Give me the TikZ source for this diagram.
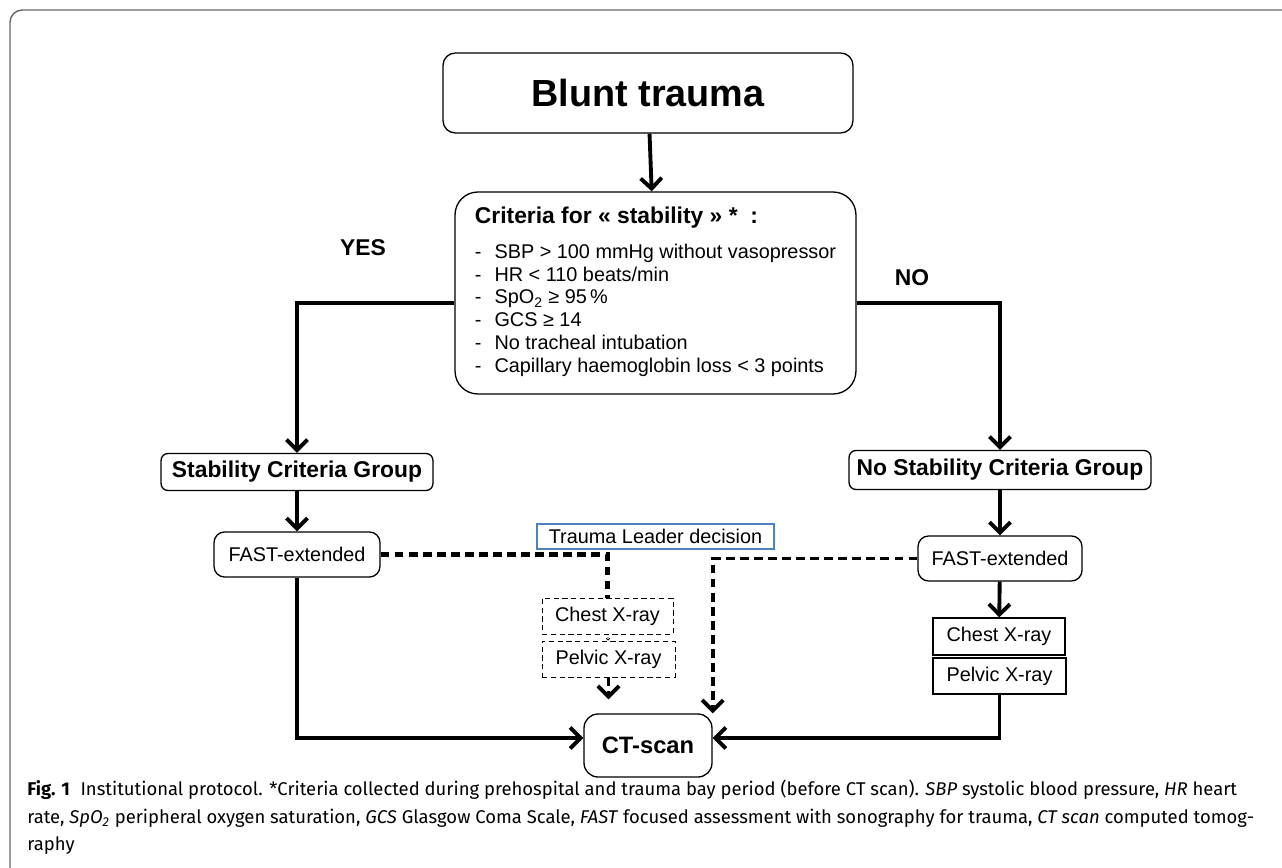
\documentclass[tikz,border=0pt]{standalone}
\usepackage{fontspec}
\setmainfont{Liberation Sans}
\newfontfamily\capfont{Fira Sans}
\usepackage{tikz}
\usetikzlibrary{arrows.meta}
\definecolor{tlblue}{RGB}{79,129,189}

\begin{document}
\begin{tikzpicture}[x=0.02cm, y=-0.02cm,
  box/.style={draw, rounded corners=4pt, line width=0.75pt, inner sep=0pt, font=\fontsize{11.3}{13}\selectfont},
  sqbox/.style={box, rounded corners=0pt},
  dbox/.style={sqbox, densely dashed, line width=0.5pt},
  bld/.style={font=\fontsize{13}{15}\selectfont\bfseries},
  arr/.style={-{Straight Barb[length=6pt,width=12pt]}, line width=2.2pt},
  dsh/.style={line width=2.4pt, dash pattern=on 5pt off 3pt}]
\useasboundingbox (0,0) rectangle (1282,868);
% frame
\draw[gray!80!black, line width=0.8pt, rounded corners=7pt] (10,868) -- (10,10) -- (1282,10);

\node[box, rounded corners=7pt, minimum width=8.2cm, minimum height=1.6cm, font=\fontsize{21.5}{25}\selectfont\bfseries] (bt) at (648,93) {Blunt trauma};
\node[box, rounded corners=13pt, minimum width=8.02cm, minimum height=4.04cm] (crit) at (655.5,293) {%
\begin{tabular}{@{}l@{\hspace{7.4pt}}l@{}}
\multicolumn{2}{@{}l}{\fontsize{13}{15}\selectfont\bfseries Criteria for « stability » *\ \ :}\\[7pt]
- & SBP > 100 mmHg without vasopressor\\
- & HR < 110 beats/min\\
- & SpO\textsubscript{2} ≥ 95\,\%\\
- & GCS ≥ 14\\
- & No tracheal intubation\\
- & Capillary haemoglobin loss < 3 points
\end{tabular}};
\node[bld] (yes) at (363,248) {YES};
\node[bld] (no) at (912,278) {NO};

\node[box, bld, minimum width=5.44cm, minimum height=0.74cm] (sg) at (297,472) {Stability Criteria Group};
\node[box, bld, minimum width=6.04cm, minimum height=0.78cm] (nsg) at (1000,470) {No Stability Criteria Group};

\node[box, rounded corners=6pt, minimum width=3.32cm, minimum height=0.9cm] (fl) at (297,554.5) {FAST-extended};
\node[box, rounded corners=6pt, minimum width=3.28cm, minimum height=0.9cm] (fr) at (1000,558.5) {FAST-extended};
\node[sqbox, minimum width=2.64cm, minimum height=0.74cm] (cxr) at (999,636.5) {Chest X-ray};
\node[sqbox, minimum width=2.66cm, minimum height=0.72cm] (pxr) at (999.5,676) {Pelvic X-ray};

\node[sqbox, draw=tlblue, line width=1.6pt, minimum width=4.74cm, minimum height=0.5cm] (tld) at (655.5,536.5) {Trauma Leader decision};
\node[dbox, minimum width=2.62cm, minimum height=0.72cm] (cxm) at (607.5,616) {Chest X-ray};
\node[dbox, minimum width=2.66cm, minimum height=0.72cm] (pxm) at (608.5,659) {Pelvic X-ray};

\node[box, rounded corners=8pt, minimum width=2.56cm, minimum height=1.26cm, font=\fontsize{13.5}{16}\selectfont\bfseries] (ct) at (648,745.5) {CT-scan};

% solid arrows
\draw[arr] (bt) -- (crit);
\draw[arr] ([yshift=-0.2cm]crit.west) -| (sg.north);
\draw[arr] ([yshift=-0.2cm]crit.east) -| (nsg.north);
\draw[arr] (sg) -- (fl);
\draw[arr] (nsg) -- (fr);
\draw[arr] (fr) -- (cxr);
\draw[arr] (fl.south) |- ([yshift=0.15cm]ct.west);
\draw[arr] (pxr.south) |- ([yshift=0.15cm]ct.east);

% dashed arrows
\draw[dsh] (fl.east) -| (cxm.north);
\draw[densely dotted, line width=0.5pt, -{Straight Barb[length=1pt,width=2pt]}] (cxm) -- (pxm);
\draw[dsh, arr, shorten >=8pt] (pxm.south) -- (pxm.south |- ct.north);
\draw[dsh, arr] (fr.west) -| (ct.north east);

% caption
\node[anchor=north west, align=left, inner sep=0pt, font=\capfont\fontsize{10.5}{15.6}\selectfont] (cap) at (27,780) {%
\textbf{Fig. 1}\hspace{6pt}Institutional protocol. *Criteria collected during prehospital and trauma bay period (before CT scan). \textit{SBP} systolic blood pressure, \textit{HR} heart\\
rate, \textit{SpO\textsubscript{2}} peripheral oxygen saturation, \textit{GCS} Glasgow Coma Scale, \textit{FAST} focused assessment with sonography for trauma, \textit{CT scan} computed tomog-\\
raphy};
\end{tikzpicture}
\end{document}
